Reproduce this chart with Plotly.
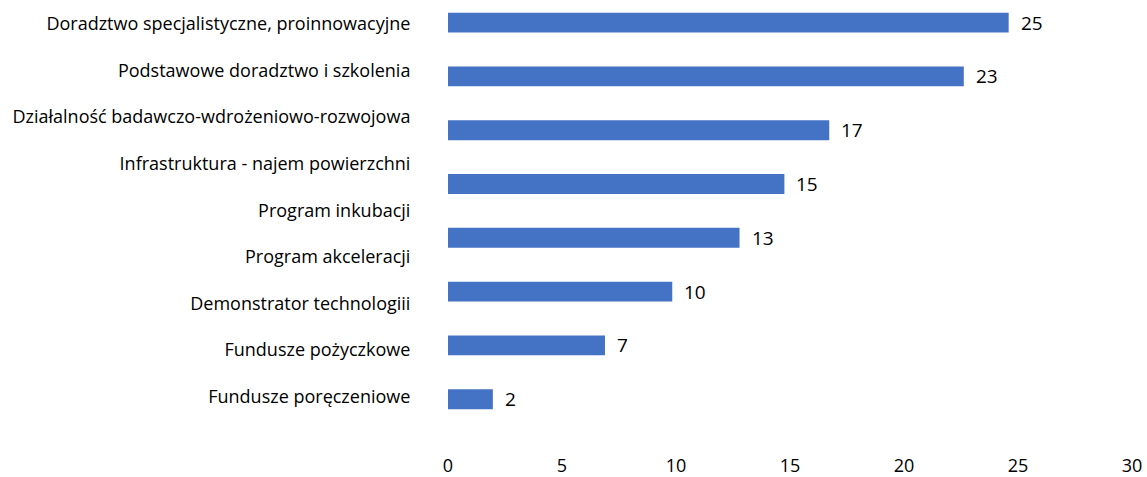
import plotly.graph_objects as go

# Category labels (top to bottom) and bar values (top to bottom)
categories = [
    "Doradztwo specjalistyczne, proinnowacyjne",
    "Podstawowe doradztwo i szkolenia",
    "Działalność badawczo-wdrożeniowo-rozwojowa",
    "Infrastruktura - najem powierzchni",
    "Program inkubacji",
    "Program akceleracji",
    "Demonstrator technologiii",
    "Fundusze pożyczkowe",
    "Fundusze poręczeniowe",
]
values = [25, 23, 17, 15, 13, 10, 7, 2]
x_ticks = [0, 5, 10, 15, 20, 25, 30]

FONT = "Open Sans"
BAR_COLOR = "#4472C4"

bar_pos = list(range(len(values)))
label_pos = list(range(len(categories)))

fig = go.Figure()

fig.add_trace(go.Bar(
    x=values,
    y=bar_pos,
    orientation="h",
    marker=dict(color=BAR_COLOR, line=dict(width=0)),
    width=0.37,
    xaxis="x",
    yaxis="y",
    hoverinfo="x",
    showlegend=False,
))

# invisible helper trace carrying the category axis
fig.add_trace(go.Scatter(
    x=[0] * len(categories),
    y=label_pos,
    mode="markers",
    marker=dict(opacity=0),
    xaxis="x2",
    yaxis="y2",
    hoverinfo="skip",
    showlegend=False,
))

for v, p in zip(values, bar_pos):
    fig.add_annotation(
        x=v, y=p, xref="x", yref="y",
        text=str(v), showarrow=False,
        xanchor="left", yanchor="middle", xshift=10,
        font=dict(family=FONT, size=19, color="#000000"),
    )

fig.update_layout(
    width=1147,
    height=477,
    margin=dict(l=448, r=15, t=0, b=22),
    paper_bgcolor="white",
    plot_bgcolor="white",
    font=dict(family=FONT, size=18, color="#000000"),
    xaxis=dict(
        range=[0, 30.5], visible=False, showgrid=False, zeroline=False,
    ),
    xaxis2=dict(
        overlaying="x", side="bottom", range=[0, 30],
        tickmode="array", tickvals=x_ticks, ticktext=[str(t) for t in x_ticks],
        showgrid=False, zeroline=False, showline=False, ticks="",
        tickfont=dict(family=FONT, size=18, color="#000000"),
    ),
    yaxis=dict(
        range=[8.0, -0.42], visible=False, showgrid=False, zeroline=False,
    ),
    yaxis2=dict(
        overlaying="y", side="left", range=[9.21, -0.513],
        tickmode="array", tickvals=label_pos, ticktext=categories,
        showgrid=False, zeroline=False, showline=False,
        ticks="outside", ticklen=33, tickcolor="rgba(0,0,0,0)",
        tickfont=dict(family=FONT, size=18, color="#000000"),
    ),
)

fig.write_html("out.html")
